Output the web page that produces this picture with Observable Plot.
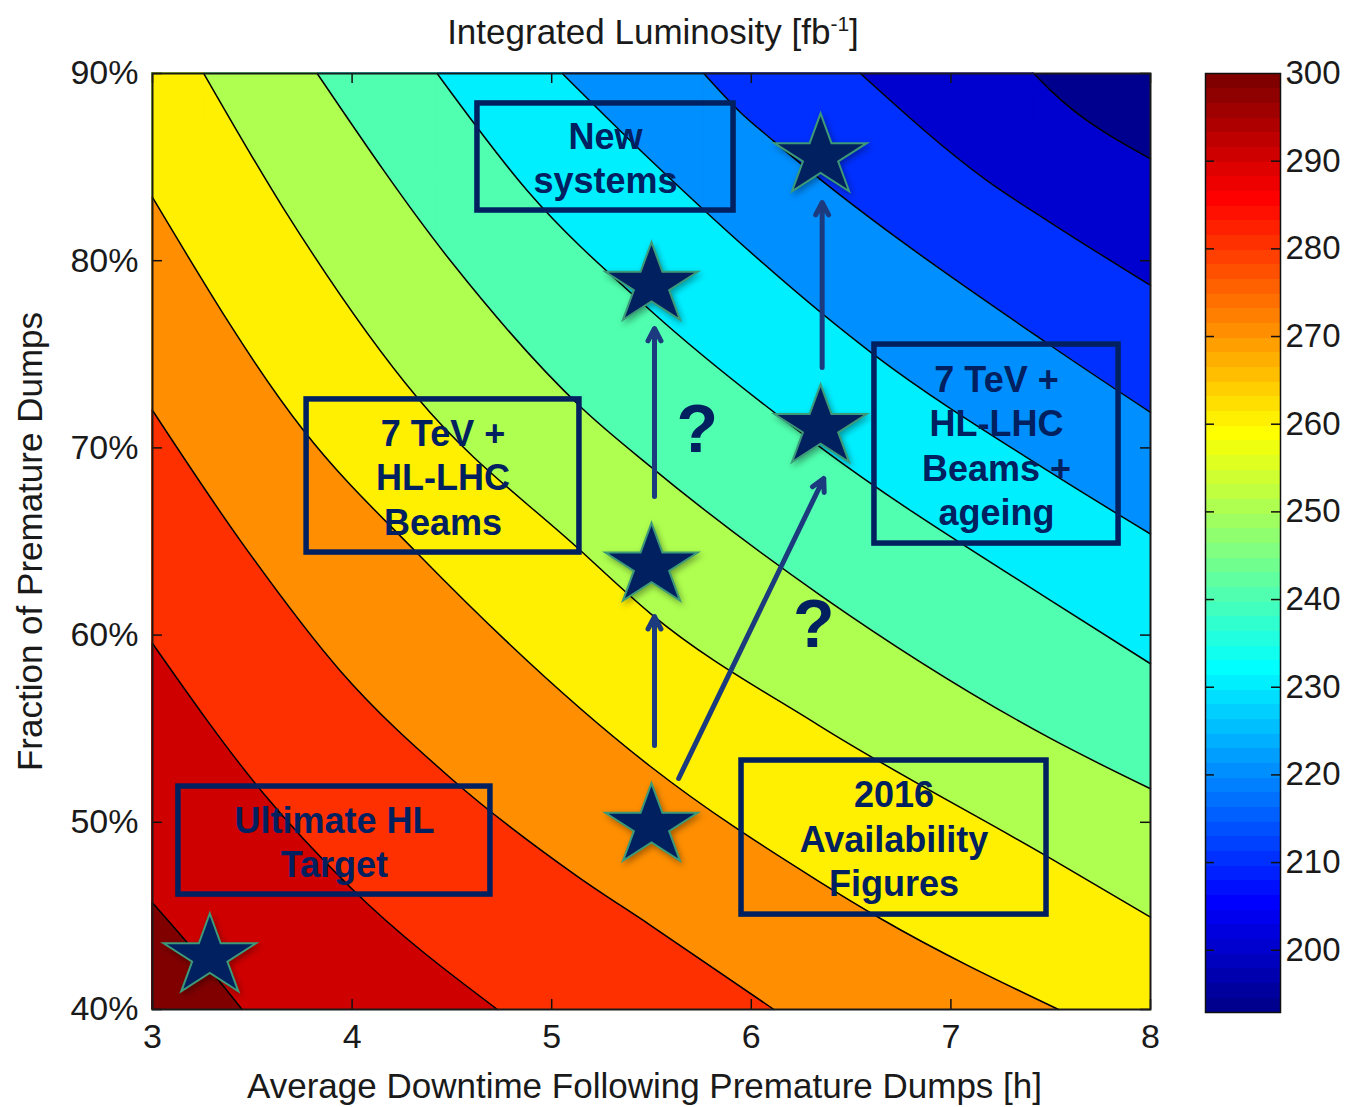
<!DOCTYPE html>
<html>
<head>
<meta charset="utf-8">
<script src="https://cdn.jsdelivr.net/npm/d3@7"></script>
<script src="https://cdn.jsdelivr.net/npm/@observablehq/plot@0.6"></script>
<style>
  body { margin: 0; background: #fff; }
  #wrap { position: relative; width: 1347px; height: 1107px; font-family: "Liberation Sans", Arial, sans-serif; }
  #main { position: absolute; left: 0; top: 0; }
  #cbar { position: absolute; left: 1190px; top: 0; }
  #title { position: absolute; left: 0; width: 1306px; top: 12px; text-align: center; font-size: 35px; color: #1a1a1a; line-height: 40px; }
  #title sup { font-size: 21px; vertical-align: 13px; line-height: 0; }
  svg g[aria-label="dot"] path { filter: drop-shadow(2px 3px 3px rgba(0,0,0,0.35)); }
</style>
</head>
<body>
<div id="wrap">
  <div id="main"></div>
  <div id="cbar"></div>
  <div id="title">Integrated Luminosity [fb<sup>-1</sup>]</div>
</div>
<script>
// ---------------- data ----------------
const xTicks = [3, 4, 5, 6, 7, 8];
const yTicks = [40, 50, 60, 70, 80, 90];
const cbarTickMarks = [200, 210, 220, 230, 240, 250, 260, 270, 280, 290];
const cbarLabels = [200, 210, 220, 230, 240, 250, 260, 270, 280, 290, 300];
const C_MIN = 192.9, C_MAX = 300;

// contour levels (fb^-1) and contour lines as [downtime h, fraction %]
const levels = [200, 210, 220, 230, 240, 250, 260, 270, 280, 290, 300];
const line200 = [[7.415, 90], [7.499, 89.1], [8, 85.44]];
const line210 = [[6.547, 90], [7.181, 84.28], [7.499, 82.04], [8, 78.68]];
const line220 = [[5.762, 90], [5.946, 87.92], [6.111, 86.4], [7.499, 75.47], [8, 71.9]];
const line230 = [[5.053, 90], [5.445, 85.89], [6.612, 75.0], [7.499, 68.69], [8, 65.4]];
const line240 = [[4.426, 90], [4.877, 83.75], [5.495, 77.34], [6.35, 70.0], [7.499, 61.85], [8, 58.47]];
const line250 = [[3.825, 90], [4.5, 79.9], [5.144, 72.2], [5.495, 69.0], [6.35, 62.1], [7.499, 54.48], [8, 51.79]];
const line260 = [[3.257, 90], [3.656, 82.8], [4.326, 72.69], [5.144, 64.52], [5.495, 61.15], [6.332, 55.22], [7.499, 48.07], [8, 44.93]];
const line270 = [[3, 83.38], [3.757, 70.93], [4.328, 64.36], [5.495, 52.98], [6.332, 46.89], [6.647, 44.86], [7.539, 40]];
const line280 = [[3, 72.0], [3.44, 65.05], [3.94, 58.1], [4.5, 52.3], [5.13, 47.1], [5.495, 44.5], [6.113, 40]];
const line290 = [[3, 59.55], [3.556, 51.54], [3.992, 46.52], [4.728, 40]];
const line300 = [[3, 45.7], [3.22, 43.0], [3.449, 40]];

// annotation boxes (data units)
const noteLabels = ["New\nsystems", "7 TeV +\nHL-LHC\nBeams", "Ultimate HL\nTarget", "2016\nAvailability\nFigures", "7 TeV +\nHL-LHC\nBeams +\nageing"];
const noteX1 = [4.628, 3.772, 3.130, 5.951, 6.617];
const noteX2 = [5.911, 5.139, 4.693, 7.479, 7.840];
const noteY1 = [82.68, 64.41, 46.14, 45.07, 64.89];
const noteY2 = [88.40, 72.59, 51.91, 53.30, 75.52];

// stars (scenarios)
const starX = [3.287, 5.5, 5.5, 5.5, 6.347, 6.347];
const starY = [42.83, 49.8, 63.7, 78.7, 71.1, 85.57];

// arrows
const arrowX1 = [5.515, 5.515, 6.355, 5.636];
const arrowY1 = [54.10, 67.40, 74.30, 52.34];
const arrowX2 = [5.515, 5.515, 6.355, 6.363];
const arrowY2 = [60.99, 76.38, 83.11, 68.37];

// question marks
const qX = [5.729, 6.313];
const qY = [70.93, 60.51];

// ---------------- helpers ----------------
// MATLAB jet(64) colormap as an interpolator of t in [0,1]
function jet64(t) {
  const i = Math.max(1, Math.min(64, Math.floor(Math.max(0, Math.min(1, t)) * 64) + 1));
  let r = 0, g = 0, b = 0;
  if (i >= 25 && i <= 40) r = (i - 24) / 16; else if (i >= 41 && i <= 55) r = 1; else if (i >= 56) r = (72 - i) / 16;
  if (i >= 9 && i <= 24) g = (i - 8) / 16; else if (i >= 25 && i <= 39) g = 1; else if (i >= 40 && i <= 55) g = (56 - i) / 16;
  if (i <= 8) b = (i + 8) / 16; else if (i <= 23) b = 1; else if (i <= 39) b = (40 - i) / 16;
  return d3.rgb(r * 255, g * 255, b * 255).formatHex();
}

const lines = [line200, line210, line220, line230, line240, line250, line260, line270, line280, line290, line300];
const contourRows = levels.flatMap((level, i) => lines[i].map(([x, y]) => ({level, x, y})));
const topEdge = levels.map((level, i) => ({level, xTop: lines[i][0][0], yTop: lines[i][0][1]})).filter(d => d.yTop === 90);
const notes = noteLabels.map((label, i) => ({label, x1: noteX1[i], x2: noteX2[i], y1: noteY1[i], y2: noteY2[i]}));
const stars = starX.map((x, i) => ({x, y: starY[i]}));
const arrows = arrowX1.map((x1, i) => ({x1, y1: arrowY1[i], x2: arrowX2[i], y2: arrowY2[i]}));
const qmarks = qX.map((x, i) => ({x, y: qY[i]}));

const starSymbol = {
  draw(context, size) {
    const R = Math.sqrt(size / Math.PI), ri = R * 0.382, sx = 1.13;
    for (let k = 0; k < 10; ++k) {
      const a = Math.PI * k / 5, rr = k % 2 ? ri : R;
      const px = sx * rr * Math.sin(a), py = -rr * Math.cos(a);
      if (k) context.lineTo(px, py); else context.moveTo(px, py);
    }
    context.closePath();
  }
};

const NAVY = "#002060";
const colorScale = {type: "linear", domain: [C_MIN, C_MAX], interpolate: jet64};

// ---------------- main chart ----------------
const main = Plot.plot({
  width: 1190, height: 1107,
  marginLeft: 152, marginRight: 40, marginTop: 73, marginBottom: 98,
  x: {domain: [3, 8]},
  y: {domain: [40, 90]},
  color: colorScale,
  style: {fontFamily: "'Liberation Sans', Arial, sans-serif", fontSize: "34px", color: "#1a1a1a", background: "transparent", overflow: "visible"},
  marks: [
    Plot.rect([{v: C_MIN}], {x1: 3, x2: 8, y1: 40, y2: 90, fill: "v"}),
    Plot.rect(topEdge, {x1: 3, x2: "xTop", y1: 40, y2: 90, fill: "level", stroke: "level", strokeWidth: 1}),
    Plot.areaY(contourRows, {x: "x", y1: 40, y2: "y", z: "level", fill: "level", stroke: "level", strokeWidth: 1, curve: "monotone-x"}),
    Plot.line(contourRows, {x: "x", y: "y", z: "level", stroke: "#000", strokeWidth: 1.5, curve: "monotone-x"}),
    Plot.tickX(xTicks, {x: d => d, insetTop: 926, stroke: "#111", strokeWidth: 1.5}),
    Plot.tickX(xTicks, {x: d => d, insetBottom: 926, stroke: "#111", strokeWidth: 1.5}),
    Plot.tickY(yTicks, {y: d => d, insetRight: 988, stroke: "#111", strokeWidth: 1.5}),
    Plot.tickY(yTicks, {y: d => d, insetLeft: 988, stroke: "#111", strokeWidth: 1.5}),
    Plot.frame({stroke: "#1a1a1a", strokeWidth: 2}),
    Plot.axisX({ticks: xTicks, tickSize: 0, tickPadding: 14, label: null, fontSize: 34, tickFormat: d => String(d)}),
    Plot.axisY({ticks: yTicks, tickSize: 0, tickPadding: 14, label: null, fontSize: 34, tickFormat: d => `${d}%`}),
    Plot.text(["Average Downtime Following Premature Dumps [h]"], {text: d => d, frameAnchor: "bottom", dy: 77, dx: -7, fontSize: 35, lineAnchor: "middle", textAnchor: "middle"}),
    Plot.text(["Fraction of Premature Dumps"], {text: d => d, frameAnchor: "left", dx: -122, rotate: -90, fontSize: 35, lineAnchor: "middle", textAnchor: "middle"}),
    // annotations
    Plot.rect(notes, {x1: "x1", x2: "x2", y1: "y1", y2: "y2", fill: "none", stroke: NAVY, strokeWidth: 5.5}),
    Plot.arrow(arrows, {x1: "x1", y1: "y1", x2: "x2", y2: "y2", stroke: "#1c3a7e", strokeWidth: 5, headLength: 4.2, headAngle: 55}),
    Plot.dot(stars, {x: "x", y: "y", r: 43, symbol: starSymbol, fill: NAVY, stroke: "#3d9a78", strokeWidth: 2}),
    Plot.text(notes, {x: d => (d.x1 + d.x2) / 2, y: d => (d.y1 + d.y2) / 2, text: "label", fontSize: 36, fontWeight: "bold", fill: NAVY, lineHeight: 1.236, lineAnchor: "middle", textAnchor: "middle"}),
    Plot.text(qmarks, {x: "x", y: "y", text: () => "?", fontSize: 68, fontWeight: "bold", fill: NAVY, lineAnchor: "middle"})
  ]
});
document.getElementById("main").append(main);

// ---------------- colorbar ----------------
const cbar = Plot.plot({
  width: 157, height: 1107,
  marginTop: 73, marginBottom: 95, marginLeft: 15, marginRight: 67,
  x: {domain: [0, 1], axis: null},
  y: {domain: [C_MIN, C_MAX], axis: null},
  color: colorScale,
  style: {fontFamily: "'Liberation Sans', Arial, sans-serif", fontSize: "33px", color: "#1a1a1a", background: "transparent", overflow: "visible"},
  marks: [
    Plot.raster({x1: 0, x2: 1, y1: C_MAX, y2: C_MIN, width: 1, height: 64, fill: (x, y) => y, imageRendering: "pixelated"}),
    Plot.tickY(cbarTickMarks, {y: d => d, insetRight: 66, stroke: "#111", strokeWidth: 1.5}),
    Plot.tickY(cbarTickMarks, {y: d => d, insetLeft: 66, stroke: "#111", strokeWidth: 1.5}),
    Plot.frame({stroke: "#111", strokeWidth: 1.5}),
    Plot.axisY({anchor: "right", ticks: cbarLabels, tickSize: 0, tickPadding: 5, label: null, fontSize: 33})
  ]
});
document.getElementById("cbar").append(cbar);
</script>
</body>
</html>
